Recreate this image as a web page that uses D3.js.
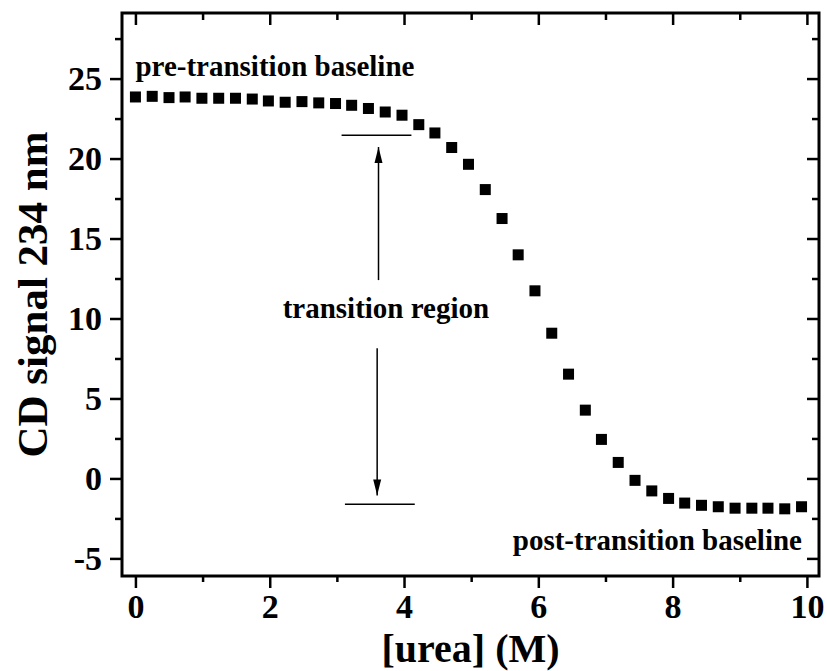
<!DOCTYPE html>
<html>
<head>
<meta charset="utf-8">
<script src="https://cdn.jsdelivr.net/npm/d3@7"></script>
<style>
  body { margin: 0; background: #fff; }
  svg { display: block; font-family: "Liberation Serif", "Times New Roman", serif; font-weight: bold; }
</style>
</head>
<body>
<script>
// urea concentration (M) and CD signal at 234 nm
const urea = [0, 0.25, 0.5, 0.74, 0.99, 1.24, 1.49, 1.74, 1.98, 2.23,
  2.48, 2.73, 2.98, 3.22, 3.47, 3.72, 3.97, 4.22, 4.46, 4.71,
  4.96, 5.21, 5.46, 5.70, 5.95, 6.20, 6.45, 6.70, 6.94, 7.19,
  7.44, 7.69, 7.94, 8.18, 8.43, 8.68, 8.93, 9.18, 9.42, 9.67, 9.92];
const cdSignal = [23.85, 23.89, 23.81, 23.85, 23.77, 23.77, 23.77, 23.72, 23.6, 23.52,
  23.56, 23.48, 23.44, 23.33, 23.13, 22.91, 22.71, 22.12, 21.6, 20.69,
  19.64, 18.06, 16.25, 13.98, 11.73, 9.08, 6.52, 4.27, 2.44, 1.0,
  -0.12, -0.78, -1.25, -1.54, -1.68, -1.77, -1.86, -1.86, -1.86, -1.9, -1.77];

const xTicks = [0, 2, 4, 6, 8, 10];
const yTicks = [-5, 0, 5, 10, 15, 20, 25];
const xMinor = [1, 3, 5, 7, 9];
const yMinor = [-2.5, 2.5, 7.5, 12.5, 17.5, 22.5, 27.5];

// annotation anchors, in data units
const preBaseline = 21.46, postBaseline = -1.61;

const width = 827, height = 671;
const margin = {top: 13, right: 8, bottom: 95, left: 122};

const x = d3.scaleLinear()
  .domain([-0.2, 10.18])
  .range([margin.left, width - margin.right]);

const y = d3.scaleLinear()
  .domain([-6.1, 29.1])
  .range([height - margin.bottom, margin.top]);

const svg = d3.select('body').append('svg')
  .attr('width', width)
  .attr('height', height);

const fmt = d => String(d); // plain hyphen for negatives
const noDomain = g => g.selectAll('.domain').remove();
const bottom = height - margin.bottom, right = width - margin.right;

// ticks outward on left/bottom, inward on top/right
svg.append('g').attr('transform', `translate(0,${bottom})`)
  .call(d3.axisBottom(x).tickValues(xTicks).tickSize(12).tickPadding(6).tickFormat(fmt)).call(noDomain);
svg.append('g').attr('transform', `translate(0,${bottom})`)
  .call(d3.axisBottom(x).tickValues(xMinor).tickSize(6).tickFormat('')).call(noDomain);

svg.append('g').attr('transform', `translate(${margin.left},0)`)
  .call(d3.axisLeft(y).tickValues(yTicks).tickSize(12).tickPadding(8).tickFormat(fmt)).call(noDomain);
svg.append('g').attr('transform', `translate(${margin.left},0)`)
  .call(d3.axisLeft(y).tickValues(yMinor).tickSize(7).tickFormat('')).call(noDomain);

svg.append('g').attr('transform', `translate(0,${margin.top})`)
  .call(d3.axisTop(x).tickValues(xTicks).tickSize(-12).tickFormat('')).call(noDomain);
svg.append('g').attr('transform', `translate(0,${margin.top})`)
  .call(d3.axisTop(x).tickValues(xMinor).tickSize(-7).tickFormat('')).call(noDomain);

svg.append('g').attr('transform', `translate(${right},0)`)
  .call(d3.axisRight(y).tickValues(yTicks).tickSize(-12).tickFormat('')).call(noDomain);
svg.append('g').attr('transform', `translate(${right},0)`)
  .call(d3.axisRight(y).tickValues(yMinor).tickSize(-7).tickFormat('')).call(noDomain);

svg.selectAll('.tick line').attr('stroke', '#000').attr('stroke-width', 2.5);
svg.selectAll('.tick text')
  .attr('fill', '#000')
  .style('font-size', '34px')
  .style('font-family', '"Liberation Serif", "Times New Roman", serif')
  .style('font-weight', 'bold');

// frame
svg.append('rect')
  .attr('x', margin.left)
  .attr('y', margin.top)
  .attr('width', right - margin.left)
  .attr('height', bottom - margin.top)
  .attr('fill', 'none')
  .attr('stroke', '#000')
  .attr('stroke-width', 3);

// data squares
const sq = 11;
svg.append('g').selectAll('rect')
  .data(urea)
  .join('rect')
  .attr('x', d => x(d) - sq / 2)
  .attr('y', (d, i) => y(cdSignal[i]) - sq / 2)
  .attr('width', sq)
  .attr('height', sq)
  .attr('fill', '#000');

// baseline markers and arrows
svg.append('defs').append('marker')
  .attr('id', 'head')
  .attr('viewBox', '0 0 16 10')
  .attr('refX', 16).attr('refY', 5)
  .attr('markerWidth', 16).attr('markerHeight', 10)
  .attr('markerUnits', 'userSpaceOnUse')
  .attr('orient', 'auto')
  .append('path')
  .attr('d', 'M0,1 L16,5 L0,9 Z')
  .attr('fill', '#000');

svg.append('line')
  .attr('x1', x(3.07)).attr('x2', x(4.11))
  .attr('y1', y(preBaseline)).attr('y2', y(preBaseline))
  .attr('stroke', '#000').attr('stroke-width', 1.5);

svg.append('line')
  .attr('x1', x(3.12)).attr('x2', x(4.16))
  .attr('y1', y(postBaseline)).attr('y2', y(postBaseline))
  .attr('stroke', '#000').attr('stroke-width', 1.5);

svg.append('line')
  .attr('x1', x(3.62)).attr('x2', x(3.62))
  .attr('y1', y(12.4)).attr('y2', y(20.72))
  .attr('stroke', '#000').attr('stroke-width', 1.5)
  .attr('marker-end', 'url(#head)');

svg.append('line')
  .attr('x1', x(3.6)).attr('x2', x(3.6))
  .attr('y1', y(8.14)).attr('y2', y(-1.06))
  .attr('stroke', '#000').attr('stroke-width', 1.5)
  .attr('marker-end', 'url(#head)');

// labels
svg.append('text')
  .attr('x', x(0)).attr('y', 76)
  .style('font-size', '29px')
  .text('pre-transition baseline');

svg.append('text')
  .attr('x', x(3.73)).attr('y', y(10.02))
  .attr('text-anchor', 'middle')
  .style('font-size', '29px')
  .text('transition region');

svg.append('text')
  .attr('x', 802).attr('y', 550)
  .attr('text-anchor', 'end')
  .style('font-size', '29px')
  .text('post-transition baseline');

svg.append('text')
  .attr('x', (margin.left + right) / 2).attr('y', 661.5)
  .attr('text-anchor', 'middle')
  .style('font-size', '40px')
  .text('[urea] (M)');

svg.append('text')
  .attr('transform', `translate(47,${(margin.top + bottom) / 2}) rotate(-90)`)
  .attr('text-anchor', 'middle')
  .style('font-size', '43px')
  .text('CD signal 234 nm');
</script>
</body>
</html>
